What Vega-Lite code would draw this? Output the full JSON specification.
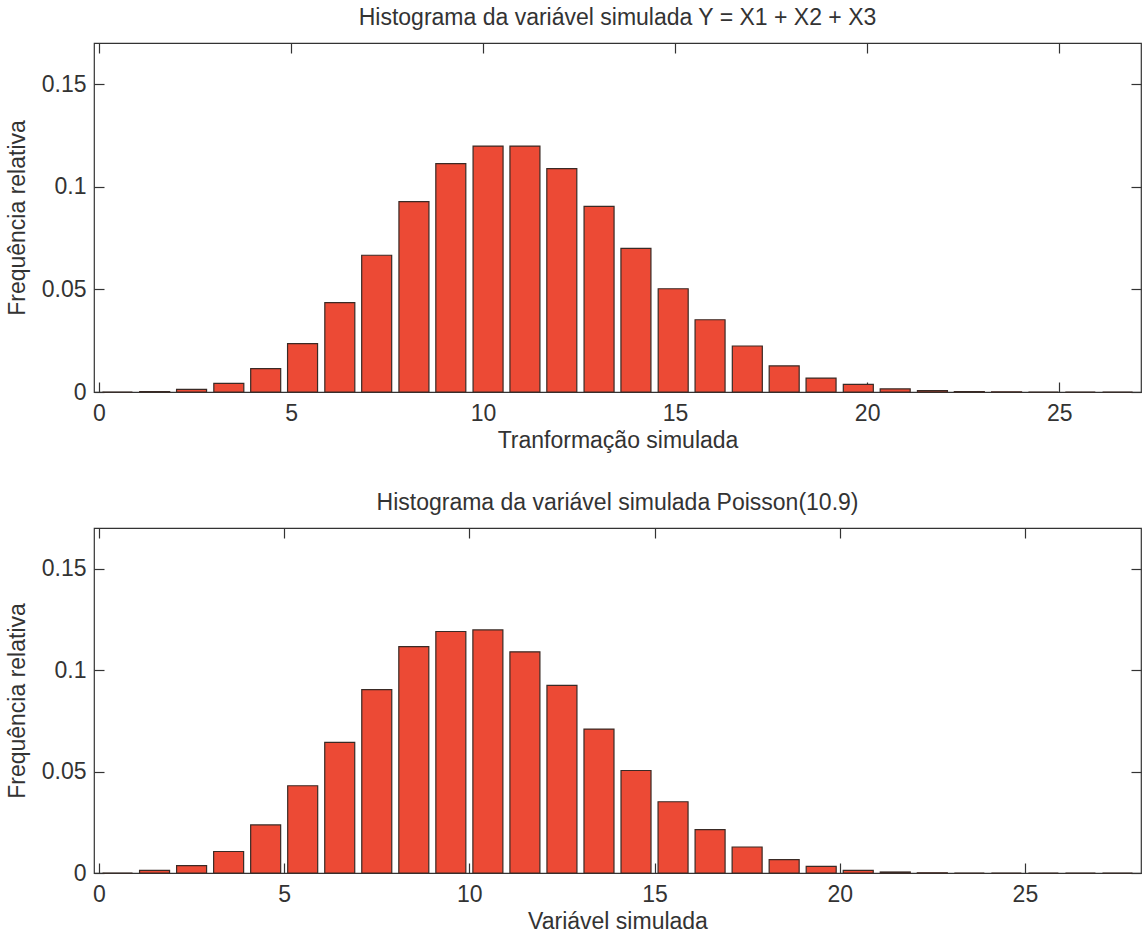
{
  "$schema": "https://vega.github.io/schema/vega-lite/v6.json",
  "background": "white",
  "padding": {"left": 5, "top": 6, "right": 0, "bottom": 4},
  "spacing": 38,
  "config": {
    "font": "Liberation Sans",
    "view": {"stroke": "#333333", "strokeWidth": 1.2},
    "title": {"fontSize": 23, "fontWeight": "normal", "color": "#333333", "offset": 12},
    "axis": {
      "grid": false,
      "domain": false,
      "labelFont": "Liberation Sans",
      "titleFont": "Liberation Sans",
      "labelFontSize": 23,
      "titleFontSize": 23,
      "titleFontWeight": "normal",
      "labelColor": "#333333",
      "titleColor": "#333333",
      "tickColor": "#333333",
      "tickSize": -10,
      "tickWidth": 1.2
    },
    "bar": {"fill": "#EC4A35", "stroke": "#3a2a25", "strokeWidth": 1.2, "width": 30}
  },
  "datasets": {
    "soma": [
      {"x": 0.48, "freq": 0.0}, {"x": 1.45, "freq": 0.0002}, {"x": 2.41, "freq": 0.0013},
      {"x": 3.38, "freq": 0.0042}, {"x": 4.34, "freq": 0.0114}, {"x": 5.30, "freq": 0.0236},
      {"x": 6.27, "freq": 0.0435}, {"x": 7.23, "freq": 0.0666}, {"x": 8.20, "freq": 0.0927},
      {"x": 9.16, "freq": 0.1112}, {"x": 10.13, "freq": 0.1198}, {"x": 11.09, "freq": 0.1198},
      {"x": 12.05, "freq": 0.1088}, {"x": 13.02, "freq": 0.0904}, {"x": 13.98, "freq": 0.07},
      {"x": 14.95, "freq": 0.0503}, {"x": 15.91, "freq": 0.0352}, {"x": 16.88, "freq": 0.0224},
      {"x": 17.84, "freq": 0.0127}, {"x": 18.80, "freq": 0.0068}, {"x": 19.77, "freq": 0.0037},
      {"x": 20.73, "freq": 0.0015}, {"x": 21.70, "freq": 0.0007}, {"x": 22.66, "freq": 0.0002},
      {"x": 23.63, "freq": 0.0001}, {"x": 24.59, "freq": 0.0}, {"x": 25.55, "freq": 0.0},
      {"x": 26.52, "freq": 0.0}
    ],
    "poisson": [
      {"x": 0.5, "freq": 0.0}, {"x": 1.5, "freq": 0.0013}, {"x": 2.5, "freq": 0.0036},
      {"x": 3.5, "freq": 0.0106}, {"x": 4.5, "freq": 0.0237}, {"x": 5.5, "freq": 0.043},
      {"x": 6.5, "freq": 0.0644}, {"x": 7.5, "freq": 0.0904}, {"x": 8.5, "freq": 0.1115},
      {"x": 9.5, "freq": 0.119}, {"x": 10.5, "freq": 0.1198}, {"x": 11.5, "freq": 0.109},
      {"x": 12.5, "freq": 0.0925}, {"x": 13.5, "freq": 0.0709}, {"x": 14.5, "freq": 0.0505},
      {"x": 15.5, "freq": 0.0351}, {"x": 16.5, "freq": 0.0214}, {"x": 17.5, "freq": 0.0128},
      {"x": 18.5, "freq": 0.0066}, {"x": 19.5, "freq": 0.0033}, {"x": 20.5, "freq": 0.0013},
      {"x": 21.5, "freq": 0.0005}, {"x": 22.5, "freq": 0.0001}, {"x": 23.5, "freq": 0.0},
      {"x": 24.5, "freq": 0.0}, {"x": 25.5, "freq": 0.0}, {"x": 26.5, "freq": 0.0},
      {"x": 27.5, "freq": 0.0}
    ]
  },
  "vconcat": [
    {
      "title": "Histograma da variável simulada Y = X1 + X2 + X3",
      "width": 1047,
      "height": 349,
      "data": {"name": "soma"},
      "layer": [
        {
          "mark": {"type": "bar", "orient": "vertical"},
          "encoding": {
            "x": {
              "field": "x", "type": "quantitative",
              "scale": {"domain": [0, 27], "nice": false, "zero": false},
              "axis": {"values": [0, 5, 10, 15, 20, 25], "title": "Tranformação simulada", "labelPadding": 20, "titlePadding": 4}
            },
            "y": {
              "field": "freq", "type": "quantitative",
              "scale": {"domain": [0, 0.17], "nice": false},
              "axis": {"values": [0, 0.05, 0.1, 0.15], "format": "~g", "title": "Frequência relativa", "labelPadding": 18, "titlePadding": 12}
            }
          }
        },
        {
          "mark": {"type": "bar", "opacity": 0},
          "encoding": {
            "x": {"field": "x", "type": "quantitative", "axis": {"orient": "top", "values": [0, 5, 10, 15, 20, 25], "labels": false, "title": null}},
            "y": {"field": "freq", "type": "quantitative", "axis": {"orient": "right", "values": [0, 0.05, 0.1, 0.15], "labels": false, "title": null}}
          }
        }
      ],
      "resolve": {"axis": {"x": "independent", "y": "independent"}}
    },
    {
      "title": "Histograma da variável simulada Poisson(10.9)",
      "width": 1047,
      "height": 345,
      "data": {"name": "poisson"},
      "layer": [
        {
          "mark": {"type": "bar", "orient": "vertical"},
          "encoding": {
            "x": {
              "field": "x", "type": "quantitative",
              "scale": {"domain": [0, 28], "nice": false, "zero": false},
              "axis": {"values": [0, 5, 10, 15, 20, 25], "title": "Variável simulada", "labelPadding": 20, "titlePadding": 4}
            },
            "y": {
              "field": "freq", "type": "quantitative",
              "scale": {"domain": [0, 0.17], "nice": false},
              "axis": {"values": [0, 0.05, 0.1, 0.15], "format": "~g", "title": "Frequência relativa", "labelPadding": 18, "titlePadding": 12}
            }
          }
        },
        {
          "mark": {"type": "bar", "opacity": 0},
          "encoding": {
            "x": {"field": "x", "type": "quantitative", "axis": {"orient": "top", "values": [0, 5, 10, 15, 20, 25], "labels": false, "title": null}},
            "y": {"field": "freq", "type": "quantitative", "axis": {"orient": "right", "values": [0, 0.05, 0.1, 0.15], "labels": false, "title": null}}
          }
        }
      ],
      "resolve": {"axis": {"x": "independent", "y": "independent"}}
    }
  ]
}
